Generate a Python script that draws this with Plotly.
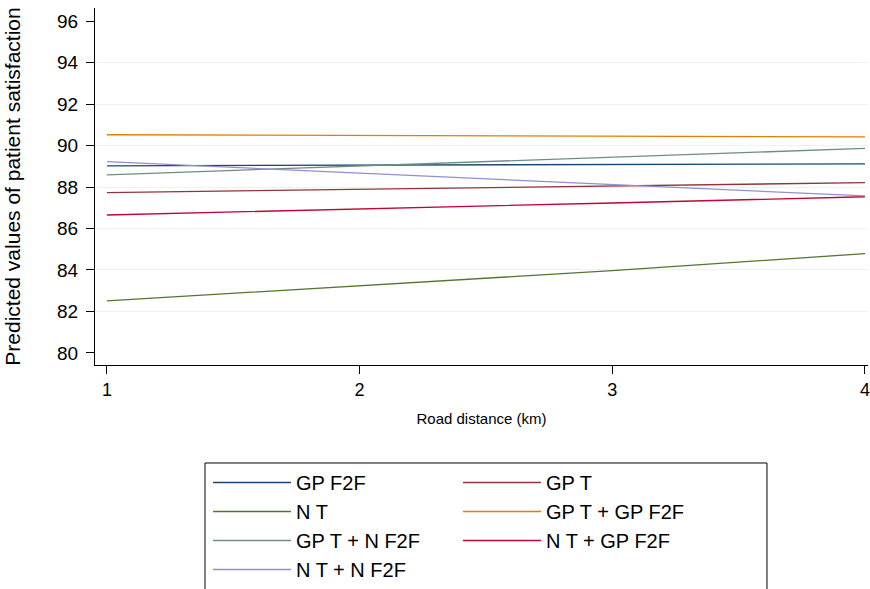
import plotly.graph_objects as go

distance = [1, 2, 3, 4]
x_ticks = [1, 2, 3, 4]
y_ticks = [80, 82, 84, 86, 88, 90, 92, 94, 96]
grid_ticks = [82, 84, 86, 88, 90, 92, 94]

series_names = ["GP F2F", "GP T", "N T", "GP T + GP F2F",
                "GP T + N F2F", "N T + GP F2F", "N T + N F2F"]
gp_f2f = [89.02, 89.06, 89.09, 89.12]
gp_t = [87.73, 87.89, 88.05, 88.21]
n_t = [82.51, 83.24, 83.97, 84.79]
gp_t_gp_f2f = [90.52, 90.48, 90.44, 90.42]
gp_t_n_f2f = [88.59, 89.01, 89.43, 89.86]
n_t_gp_f2f = [86.65, 86.93, 87.23, 87.53]
n_t_n_f2f = [89.22, 88.67, 88.11, 87.57]
series_values = [gp_f2f, gp_t, n_t, gp_t_gp_f2f, gp_t_n_f2f, n_t_gp_f2f, n_t_n_f2f]
colors = ["#1a476f", "#90353b", "#55752f", "#e37e00", "#6e8e84", "#c10534", "#938dd2"]
legend_columns = ["left", "right", "left", "right", "left", "right", "left"]

FONT = "Liberation Sans, Arial, sans-serif"

fig = go.Figure()
for name, vals, col, grp in zip(series_names, series_values, colors, legend_columns):
    fig.add_trace(go.Scatter(x=distance, y=vals, name=name, mode="lines",
                             legendgroup=grp,
                             line=dict(color=col, width=1.3)))
# invisible trace for the grid axis
fig.add_trace(go.Scatter(x=[distance[0]], y=[grid_ticks[0]], yaxis="y2",
                         mode="markers", marker=dict(opacity=0),
                         showlegend=False, hoverinfo="skip"))

# legend frame (runs off the bottom of the image, as in the original)
fig.add_shape(type="rect", xref="paper", yref="paper",
              x0=0.1423, x1=0.8693, y0=-0.2745, y1=-0.70,
              line=dict(color="black", width=1), fillcolor="rgba(0,0,0,0)",
              layer="above")

yr = [79.42, 96.63]
fig.update_layout(
    width=870, height=589,
    margin=dict(l=95, r=2, t=8, b=224, autoexpand=False),
    paper_bgcolor="white", plot_bgcolor="white",
    font=dict(family=FONT, color="black"),
    xaxis=dict(range=[0.953, 4.012], tickvals=x_ticks, showgrid=False, zeroline=False,
               showline=True, linecolor="black", linewidth=1.3, automargin=False,
               ticks="outside", ticklen=8, tickwidth=1.3, tickcolor="black",
               tickfont=dict(size=18), ticklabeloverflow="allow",
               title=dict(text="Road distance (km)", font=dict(size=15), standoff=14)),
    yaxis=dict(range=yr, tickvals=y_ticks, showgrid=False, zeroline=False,
               showline=True, linecolor="black", linewidth=1.3, automargin=False,
               ticks="outside", ticklen=8, tickwidth=1.3, tickcolor="black",
               tickfont=dict(size=19), ticklabelstandoff=4,
               title=dict(text="Predicted values of patient satisfaction",
                          font=dict(size=21), standoff=30)),
    yaxis2=dict(range=yr, overlaying="y", tickvals=grid_ticks, showgrid=True,
                gridcolor="#eaf2f3", gridwidth=1.3, showticklabels=False,
                zeroline=False, showline=False, layer="below traces", automargin=False),
    legend=dict(orientation="h", xref="container", yref="container",
                x=0.2391, xanchor="left", y=0.2139, yanchor="top",
                borderwidth=0, bgcolor="rgba(0,0,0,0)",
                font=dict(size=20), entrywidth=157, entrywidthmode="pixels",
                itemwidth=78, traceorder="grouped", tracegroupgap=0),
    showlegend=True,
)
fig.write_html("out.html", config={"displayModeBar": False},
               post_script="document.body.style.margin='0';")
